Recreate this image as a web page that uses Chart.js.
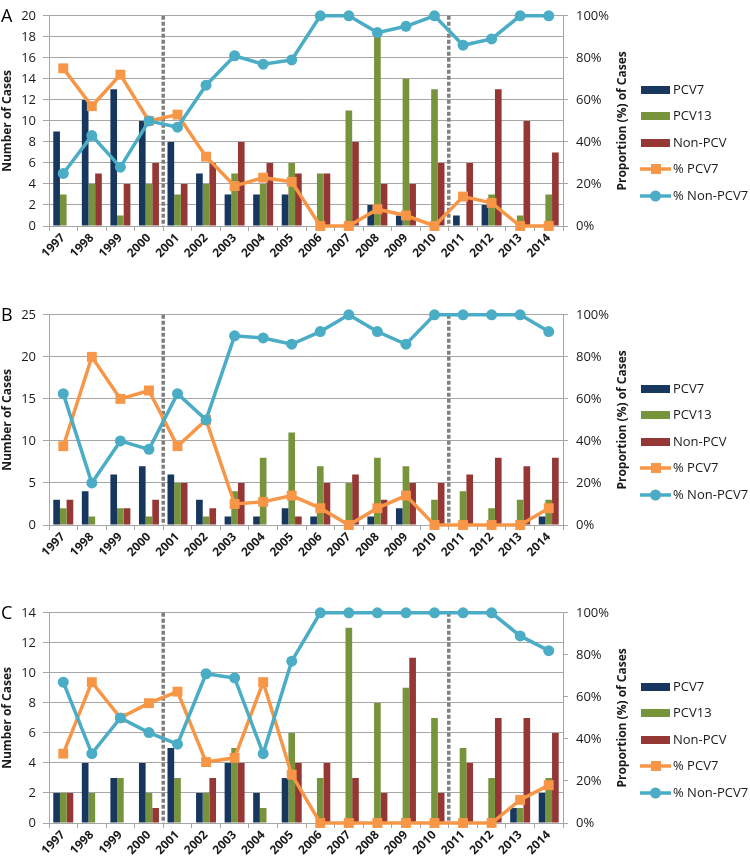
<!DOCTYPE html>
<html>
<head>
<meta charset="utf-8">
<script src="https://cdn.jsdelivr.net/npm/chart.js@4.4.1/dist/chart.umd.min.js"></script>
<style>
  html, body { margin: 0; padding: 0; background: #fff; }
  #wrap { position: relative; width: 750px; height: 865px; }
  canvas { position: absolute; left: 0; }
</style>
</head>
<body>
<div id="wrap">
  <canvas id="cA" width="750" height="268" style="top:0px"></canvas>
  <canvas id="cB" width="750" height="268" style="top:299px"></canvas>
  <canvas id="cC" width="750" height="268" style="top:597px"></canvas>
</div>
<script>
// ---- Data ----
const years = ['1997','1998','1999','2000','2001','2002','2003','2004','2005','2006','2007','2008','2009','2010','2011','2012','2013','2014'];
const seriesNames = ['PCV7', 'PCV13', 'Non-PCV', '% PCV7', '% Non-PCV7'];

// Panel A
const aPCV7   = [9, 12, 13, 10, 8, 5, 3, 3, 3, 0, 0, 2, 1, 0, 1, 2, 0, 0];
const aPCV13  = [3, 4, 1, 4, 3, 4, 5, 4, 6, 5, 11, 18, 14, 13, 0, 3, 1, 3];
const aNonPCV = [0, 5, 4, 6, 4, 6, 8, 6, 5, 5, 8, 4, 4, 6, 6, 13, 10, 7];
const aPctPCV7    = [75, 57, 72, 50, 53, 33, 19, 23, 21, 0, 0, 8, 5, 0, 14, 11, 0, 0];
const aPctNonPCV7 = [25, 43, 28, 50, 47, 67, 81, 77, 79, 100, 100, 92, 95, 100, 86, 89, 100, 100];

// Panel B
const bPCV7   = [3, 4, 6, 7, 6, 3, 1, 1, 2, 1, 0, 1, 2, 0, 0, 0, 0, 1];
const bPCV13  = [2, 1, 2, 1, 5, 1, 4, 8, 11, 7, 5, 8, 7, 3, 4, 2, 3, 3];
const bNonPCV = [3, 0, 2, 3, 5, 2, 5, 0, 1, 5, 6, 3, 5, 5, 6, 8, 7, 8];
const bPctPCV7    = [37.5, 80, 60, 64, 37.5, 50, 10, 11, 14, 8, 0, 8, 14, 0, 0, 0, 0, 8];
const bPctNonPCV7 = [62.5, 20, 40, 36, 62.5, 50, 90, 89, 86, 92, 100, 92, 86, 100, 100, 100, 100, 92];

// Panel C
const cPCV7   = [2, 4, 3, 4, 5, 2, 4, 2, 3, 0, 0, 0, 0, 0, 0, 0, 1, 2];
const cPCV13  = [2, 2, 3, 2, 3, 2, 5, 1, 6, 3, 13, 8, 9, 7, 5, 3, 1, 3];
const cNonPCV = [2, 0, 0, 1, 0, 3, 4, 0, 4, 4, 3, 2, 11, 2, 4, 7, 7, 6];
const cPctPCV7    = [33, 67, 50, 57, 62.5, 29, 31, 67, 23, 0, 0, 0, 0, 0, 0, 0, 11, 18];
const cPctNonPCV7 = [67, 33, 50, 43, 37.5, 71, 69, 33, 77, 100, 100, 100, 100, 100, 100, 100, 89, 82];

// Axis ranges
const leftMax  = { A: 20, B: 25, C: 14 };
const leftStep = { A: 2,  B: 5,  C: 2 };
const pctTicks = [0, 20, 40, 60, 80, 100];

// ---- Styles ----
const COLORS = ['#17375E', '#77933C', '#953735', '#F79646', '#4BACC6'];
const GRID = '#a6a6a6';
const FONT = '"Open Sans", "Noto Sans", sans-serif';
const TEXT = '#1a1a1a';

function makeIcon(i) {
  const c = document.createElement('canvas');
  c.width = 32; c.height = 14;
  const g = c.getContext('2d');
  g.fillStyle = COLORS[i];
  if (i < 3) {
    g.fillRect(1, 3, 29, 8);
  } else {
    g.strokeStyle = COLORS[i];
    g.lineWidth = 3.5;
    g.beginPath(); g.moveTo(0, 7); g.lineTo(31, 7); g.stroke();
    if (i === 3) { g.fillRect(11, 2, 10, 10); }
    else { g.beginPath(); g.arc(15.5, 7, 5.5, 0, Math.PI * 2); g.fill(); }
  }
  return c;
}

const overlay = {
  id: 'overlay',
  beforeDatasetsDraw(chart) {
    const x = chart.scales.x, a = chart.chartArea, ctx = chart.ctx;
    ctx.save();
    ctx.strokeStyle = '#7f7f7f';
    ctx.lineWidth = 3.5;
    ctx.setLineDash([4, 2]);
    [3, 13].forEach(i => {
      const px = (x.getPixelForValue(i) + x.getPixelForValue(i + 1)) / 2;
      ctx.beginPath(); ctx.moveTo(px, a.top); ctx.lineTo(px, a.bottom); ctx.stroke();
    });
    ctx.restore();
  },
  afterDraw(chart, args, opts) {
    const a = chart.chartArea, ctx = chart.ctx;
    const midY = (a.top + a.bottom) / 2;
    ctx.save();
    // Panel letter
    ctx.fillStyle = '#000';
    ctx.font = '18px ' + FONT;
    ctx.textAlign = 'left'; ctx.textBaseline = 'middle';
    ctx.fillText(opts.letter, 1, a.top + 1);
    // Axis titles
    ctx.font = 'bold 12px ' + FONT;
    ctx.fillStyle = TEXT;
    ctx.textAlign = 'center'; ctx.textBaseline = 'middle';
    ctx.save(); ctx.translate(8, midY); ctx.rotate(-Math.PI / 2);
    ctx.fillText('Number of Cases', 0, 0); ctx.restore();
    ctx.save(); ctx.translate(623, midY); ctx.rotate(-Math.PI / 2);
    ctx.fillText('Proportion (%) of Cases', 0, 0); ctx.restore();
    // Legend
    ctx.font = '13px ' + FONT;
    ctx.textAlign = 'left';
    seriesNames.forEach((name, i) => {
      const cy = a.top + 74 + i * 26.5;
      ctx.drawImage(icons[i], 640, Math.round(cy - 7));
      ctx.fillStyle = TEXT;
      ctx.fillText(name, 673, cy);
    });
    ctx.restore();
  }
};

const icons = [0, 1, 2, 3, 4].map(makeIcon);

function build(id, letter, pcv7, pcv13, non, pct7, pctNon) {
  new Chart(document.getElementById(id), {
    type: 'bar',
    data: {
      labels: years,
      datasets: [
        { label: seriesNames[0], data: pcv7, backgroundColor: COLORS[0], yAxisID: 'y', order: 2,
          categoryPercentage: 0.7, barPercentage: 1.0 },
        { label: seriesNames[1], data: pcv13, backgroundColor: COLORS[1], yAxisID: 'y', order: 2,
          categoryPercentage: 0.7, barPercentage: 1.0 },
        { label: seriesNames[2], data: non, backgroundColor: COLORS[2], yAxisID: 'y', order: 2,
          categoryPercentage: 0.7, barPercentage: 1.0 },
        { type: 'line', label: seriesNames[3], data: pct7, yAxisID: 'y1', order: 1,
          borderColor: COLORS[3], backgroundColor: COLORS[3], borderWidth: 3.5,
          pointStyle: 'rect', pointRadius: 7, pointBorderWidth: 0, pointBackgroundColor: COLORS[3],
          tension: 0, clip: false },
        { type: 'line', label: seriesNames[4], data: pctNon, yAxisID: 'y1', order: 0,
          borderColor: COLORS[4], backgroundColor: COLORS[4], borderWidth: 3.5,
          pointStyle: 'circle', pointRadius: 5.5, pointBorderWidth: 0, pointBackgroundColor: COLORS[4],
          tension: 0, clip: false }
      ]
    },
    options: {
      responsive: false,
      animation: false,
      devicePixelRatio: 1,
      layout: { padding: { top: 7, left: 0, right: 0, bottom: 0 } },
      plugins: { legend: { display: false }, tooltip: { enabled: false }, overlay: { letter } },
      scales: {
        x: {
          type: 'category', offset: true,
          grid: { offset: true, drawOnChartArea: false, drawTicks: true, tickLength: 5, color: GRID },
          border: { display: true, color: GRID, width: 1 },
          ticks: { autoSkip: false, minRotation: 45, maxRotation: 45, padding: 0,
                   color: TEXT, font: { family: FONT, size: 12, weight: 'bold' } },
          afterFit: s => { s.height = 42; }
        },
        y: {
          position: 'left', min: 0, max: leftMax[letter],
          ticks: { stepSize: leftStep[letter], padding: 7, color: TEXT, font: { family: FONT, size: 13 } },
          grid: { color: GRID, tickLength: 6, drawTicks: true },
          border: { display: true, color: GRID },
          afterFit: s => { s.width = 49; }
        },
        y1: {
          position: 'right', min: 0, max: 100,
          afterBuildTicks: s => { s.ticks = pctTicks.map(v => ({ value: v })); },
          ticks: { padding: 8, color: TEXT, font: { family: FONT, size: 13 }, callback: v => v + '%' },
          grid: { drawOnChartArea: false, color: GRID, tickLength: 5, drawTicks: true },
          border: { display: true, color: GRID },
          afterFit: s => { s.width = 187; }
        }
      }
    },
    plugins: [overlay]
  });
}

build('cA', 'A', aPCV7, aPCV13, aNonPCV, aPctPCV7, aPctNonPCV7);
build('cB', 'B', bPCV7, bPCV13, bNonPCV, bPctPCV7, bPctNonPCV7);
build('cC', 'C', cPCV7, cPCV13, cNonPCV, cPctPCV7, cPctNonPCV7);
</script>
</body>
</html>
